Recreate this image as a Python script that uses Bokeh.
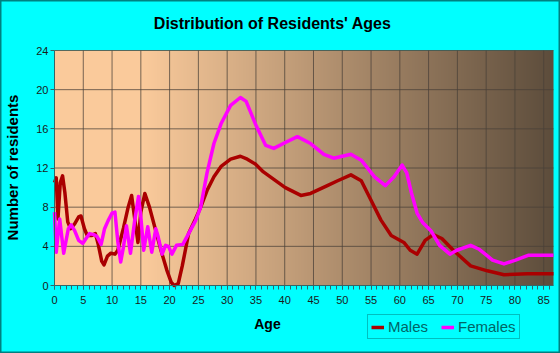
import math
import numpy as np
from bokeh.plotting import figure
from bokeh.models import Range1d, Label, Legend, LegendItem, FixedTicker, ColumnDataSource
from bokeh.embed import file_html
from bokeh.resources import INLINE

TITLE = "Distribution of Residents' Ages"
X_LABEL = "Age"
Y_LABEL = "Number of residents"
X_TICKS = list(range(0, 90, 5))
X_MINOR = list(range(0, 87))
Y_TICKS = [0, 4, 8, 12, 16, 20, 24]

males_age = [0, 0.3, 0.6, 1.0, 1.4, 1.8, 2.3, 2.8, 3.5, 4.2, 4.6, 5.2, 5.7, 6.4, 7.1, 7.6, 8.2, 8.6,
             9.2, 9.8, 10.5, 11.0, 12.0, 12.8, 13.4, 13.9, 14.5, 15.0, 15.7, 16.5, 17.5, 18.5, 19.5,
             20.3, 20.8, 21.5, 22.2, 23.3, 24.5, 25.4, 26.5, 27.7, 29.0, 30.6, 32.3, 33.5, 34.9,
             36.3, 37.5, 40.1, 42.8, 44.5, 47.4, 49.2, 51.5, 53.3, 55.0, 56.7, 58.5, 60.7, 61.8,
             63.0, 64.4, 65.8, 67.3, 69.3, 72.3, 75.2, 78.1, 82.2, 86.7]
males_val = [10.5, 11.0, 6.8, 10.5, 11.2, 9.5, 6.5, 5.8, 6.3, 7.0, 7.1, 5.8, 5.1, 5.1, 5.3, 4.2, 2.5, 2.1,
             3.0, 3.3, 3.2, 3.6, 5.9, 8.0, 9.2, 7.0, 4.4, 7.5, 9.4, 8.0, 5.8, 3.6, 1.6,
             0.3, 0.0, 0.2, 2.0, 5.3, 6.8, 8.0, 9.7, 11.1, 12.2, 12.9, 13.2, 12.9, 12.4,
             11.6, 11.1, 10.0, 9.2, 9.4, 10.2, 10.7, 11.3, 10.7, 8.7, 6.7, 5.1, 4.4, 3.6,
             3.2, 4.6, 5.2, 4.8, 3.6, 2.0, 1.5, 1.1, 1.2, 1.2]

females_age = [0, 0.3, 0.9, 1.6, 2.4, 2.9, 3.5, 4.2, 4.9, 5.6, 6.1, 6.8, 7.4, 8.1, 8.7, 9.3, 10.0, 10.5,
               11.0, 11.5, 12.0, 12.5, 13.2, 13.9, 14.6, 15.0, 15.5, 16.2, 16.9, 17.6, 18.0, 18.7,
               19.3, 19.8, 20.4, 21.2, 22.3, 23.3, 24.5, 25.4, 26.5, 27.7, 29.0, 30.6, 32.3, 33.3,
               34.9, 36.7, 38.1, 40.1, 42.2, 44.5, 46.8, 48.5, 51.5, 53.3, 55.6, 57.5, 59.0, 60.4,
               61.2, 62.0, 63.0, 64.0, 65.4, 66.9, 68.7, 69.9, 72.3, 73.8, 76.1, 78.1, 80.1, 82.4,
               86.7]
females_val = [7.5, 3.4, 6.8, 3.3, 5.8, 6.2, 5.6, 4.6, 4.3, 4.9, 5.3, 5.2, 5.0, 4.2, 5.8, 6.6, 7.4, 7.5,
               4.5, 2.4, 4.0, 6.1, 3.3, 6.5, 9.1, 7.0, 3.6, 6.0, 3.4, 5.8, 5.0, 3.2,
               4.1, 4.0, 3.2, 4.1, 4.2, 5.3, 6.6, 8.0, 11.5, 14.5, 16.6, 18.4, 19.2, 18.8,
               16.5, 14.3, 14.0, 14.6, 15.2, 14.5, 13.4, 13.0, 13.4, 12.8, 11.1, 10.2, 11.1, 12.3,
               11.5, 9.5, 7.4, 6.4, 5.6, 4.1, 3.2, 3.6, 4.1, 3.7, 2.6, 2.2, 2.6, 3.1,
               3.1]

X_MAX = 86.7
Y_MAX = 24

# plot area occupies pixels x 54..553, y 50..285 of a 560x353 canvas
W, H = 560, 353
L, R, T, B = 54, 553, 50, 285
sx = (R - L) / X_MAX
sy = (B - T) / Y_MAX
x_range = Range1d(-L / sx, X_MAX + (W - R) / sx)
y_range = Range1d(-(H - B) / sy, Y_MAX + T / sy)

p = figure(width=W, height=H, output_backend="svg", toolbar_location=None,
           x_range=x_range, y_range=y_range,
           min_border_left=0, min_border_right=0, min_border_top=0, min_border_bottom=0)
p.border_fill_color = "#00ffff"
p.background_fill_color = "#00ffff"
p.outline_line_color = "#008080"
p.outline_line_width = 2
p.grid.visible = False

# background gradient of the plot area
N = 500
t = np.linspace(0, 1, N)
f = np.clip((t - 0.18) / 0.82, 0, 1)
c0 = np.array([250, 202, 155])
c1 = np.array([93, 77, 60])
cols = (c0[None, :] + (c1 - c0)[None, :] * f[:, None]).astype(np.uint32)
img = np.empty((1, N), dtype=np.uint32)
view = img.view(dtype=np.uint8).reshape((1, N, 4))
view[0, :, 0] = cols[:, 0]
view[0, :, 1] = cols[:, 1]
view[0, :, 2] = cols[:, 2]
view[0, :, 3] = 255
p.image_rgba(image=[img], x=0, y=0, dw=X_MAX, dh=Y_MAX, level="image")

# grid lines limited to the plot area
gx = X_TICKS[1:]
gy = Y_TICKS[1:]
p.segment(x0=gx, y0=[0] * len(gx), x1=gx, y1=[Y_MAX] * len(gx),
          line_color="#4a4038", line_alpha=0.75, line_width=1)
p.segment(x0=[0] * len(gy), y0=gy, x1=[X_MAX] * len(gy), y1=gy,
          line_color="#4a4038", line_alpha=0.75, line_width=1)

# axes fixed at the plot-area edges
p.xaxis.fixed_location = 0
p.yaxis.fixed_location = 0
p.xaxis.bounds = (0, X_MAX)
p.yaxis.bounds = (0, Y_MAX)
p.xaxis.ticker = FixedTicker(ticks=X_TICKS, minor_ticks=X_MINOR)
p.yaxis.ticker = FixedTicker(ticks=Y_TICKS)
for ax in (p.xaxis, p.yaxis):
    ax.axis_line_color = "#336666"
    ax.major_tick_line_color = "#336666"
    ax.minor_tick_line_color = "#336666"
    ax.major_tick_in = 0
    ax.major_tick_out = 4
    ax.minor_tick_in = 0
    ax.minor_tick_out = 4
    ax.major_label_text_font = "Liberation Sans"
    ax.major_label_text_font_size = "11px"
    ax.major_label_text_color = "#1a1a1a"
p.xaxis.major_label_standoff = 6
p.yaxis.major_label_standoff = 2
p.yaxis.minor_tick_line_color = None

males = ColumnDataSource(dict(x=males_age, y=males_val))
females = ColumnDataSource(dict(x=females_age, y=females_val))
rm = p.line("x", "y", source=males, line_color="#aa0000", line_width=3.5, line_join="round")
rf = p.line("x", "y", source=females, line_color="#ff00ff", line_width=3.5, line_join="round")

# texts
p.add_layout(Label(x=37.9, y=26.76, text=TITLE, text_font="Liberation Sans",
                   text_font_style="bold", text_font_size="16px", text_color="#000000",
                   text_align="center", text_baseline="middle"))
p.add_layout(Label(x=37.0, y=-3.98, text=X_LABEL, text_font="Liberation Sans",
                   text_font_style="bold", text_font_size="14px", text_color="#000000",
                   text_align="center", text_baseline="middle"))
p.add_layout(Label(x=-7.3, y=12.05, text=Y_LABEL, text_font="Liberation Sans",
                   text_font_style="bold", text_font_size="15px", text_color="#000000",
                   text_align="center", text_baseline="middle", angle=math.pi / 2))

legend = Legend(items=[LegendItem(label="Males", renderers=[rm]),
                       LegendItem(label="Females", renderers=[rf])],
                orientation="horizontal", location=(367, 14),
                border_line_color="#008080", border_line_width=1,
                background_fill_alpha=0,
                label_text_font="Liberation Sans", label_text_font_size="15px",
                label_text_color="#006666",
                glyph_width=13, glyph_height=10, label_standoff=4, spacing=13,
                padding=3, margin=0, label_height=15)
p.add_layout(legend)

open("out.html", "w").write(file_html(p, INLINE))
